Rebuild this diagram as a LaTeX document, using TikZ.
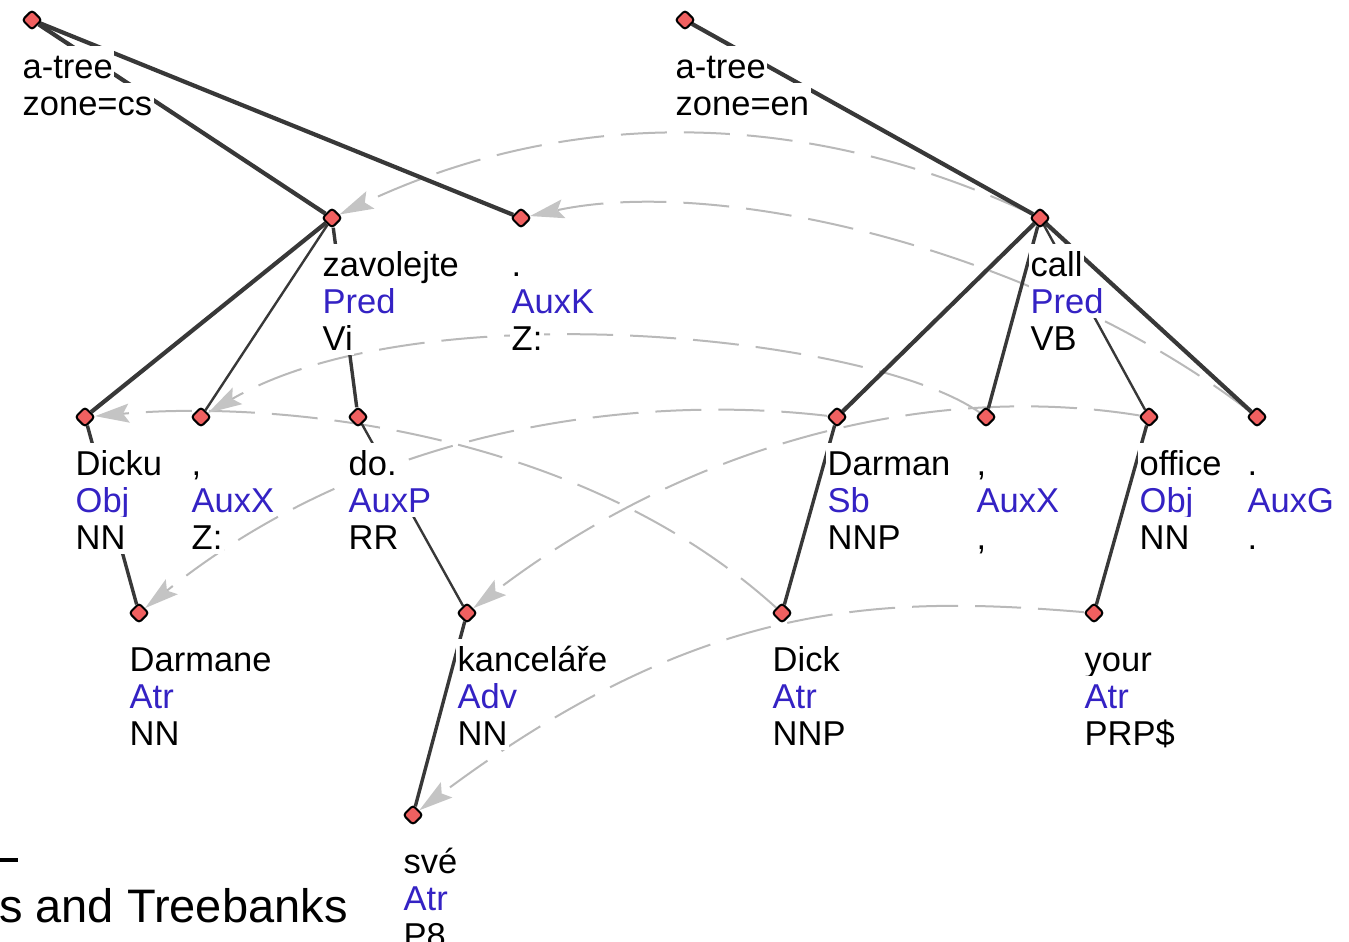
\documentclass[tikz,border=0pt]{standalone}
\usepackage{fontspec}
\setmainfont{Liberation Sans}
\usetikzlibrary{arrows.meta,shapes.geometric}

\pgfdeclarelayer{lines}
\pgfdeclarelayer{labels}
\pgfsetlayers{lines,labels,main}

\definecolor{afun}{RGB}{52,34,196}
\definecolor{edgegray}{RGB}{56,56,56}
\definecolor{aligngray}{RGB}{185,185,185}
\definecolor{tipgray}{RGB}{196,196,196}
\definecolor{nodered}{RGB}{240,96,96}

\tikzset{
  tnode/.style={diamond, draw=black, line width=2pt, fill=nodered, inner sep=0pt,
    minimum size=20pt, rounded corners=3pt},
  lab/.style={anchor=base west, fill=white, inner xsep=1.5pt, inner ysep=0pt,
    text height=32pt, text depth=5pt, font=\fontsize{34.5}{37}\selectfont},
  treethick/.style={draw=edgegray, line width=4.2pt},
  treemid/.style={draw=edgegray, line width=3.4pt},
  treethin/.style={draw=edgegray, line width=2.4pt},
  alignlink/.style={draw=aligngray, line width=2pt, dash pattern=on 46pt off 17pt,
    -{Stealth[length=34pt,width=19pt,inset=6pt,color=tipgray,fill=tipgray]}},
}

% three-line label under a tree node: form, afun, tag
\newcommand\wordlabel[6]{%
  \node[lab] (#1-f) at (#2-11,#3+58) {#4};
  \node[lab,text=afun] (#1-a) at (#2-11,#3+95) {#5};
  \node[lab] (#1-t) at (#2-11,#3+132) {#6};
}

\begin{document}
\begin{tikzpicture}[x=1pt,y=-1pt]
\useasboundingbox (0,0) rectangle (1349,942);

% tree nodes
\node[tnode] (rcs)     at (32,20) {};
\node[tnode] (ren)     at (685,20) {};
\node[tnode] (zav)     at (332,218) {};
\node[tnode] (auxk)    at (521,218) {};
\node[tnode] (call)    at (1040,218) {};
\node[tnode] (dicku)   at (85,417) {};
\node[tnode] (cx)      at (201,417) {};
\node[tnode] (do)      at (358,417) {};
\node[tnode] (darman)  at (837,417) {};
\node[tnode] (ex)      at (986,417) {};
\node[tnode] (office)  at (1149,417) {};
\node[tnode] (eg)      at (1257,417) {};
\node[tnode] (darmane) at (139,613) {};
\node[tnode] (kanc)    at (467,613) {};
\node[tnode] (dick)    at (782,613) {};
\node[tnode] (your)    at (1094,613) {};
\node[tnode] (sve)     at (413,815) {};

\begin{pgfonlayer}{lines}
  % word alignment links (English -> Czech)
  \draw[alignlink] (call)   .. controls (804,107) and (568,107) .. (zav);
  \draw[alignlink] (eg)     .. controls (1040,250) and (720,175) .. (auxk);
  \draw[alignlink] (dick)   .. controls (580,430) and (280,400) .. (dicku);
  \draw[alignlink] (ex)     .. controls (870,335) and (420,290) .. (cx);
  \draw[alignlink] (darman) .. controls (650,395) and (380,420) .. (darmane);
  \draw[alignlink] (office) .. controls (920,380) and (680,450) .. (kanc);
  \draw[alignlink] (your)   .. controls (880,595) and (700,600) .. (sve);

  % dependency edges, Czech tree
  \draw[treethick] (rcs) -- (zav);
  \draw[treethick] (rcs) -- (auxk);
  \draw[treethick] (zav) -- (dicku);
  \draw[treethin]  (zav) -- (cx);
  \draw[treemid]   (zav) -- (do);
  \draw[treemid]   (dicku) -- (darmane);
  \draw[treethin]  (do) -- (kanc);
  \draw[treemid]   (kanc) -- (sve);

  % dependency edges, English tree
  \draw[treethick] (ren) -- (call);
  \draw[treethick] (call) -- (darman);
  \draw[treemid]   (call) -- (ex);
  \draw[treethin]  (call) -- (office);
  \draw[treethick] (call) -- (eg);
  \draw[treemid]   (darman) -- (dick);
  \draw[treemid]   (office) -- (your);

  % slide footer fragment
  \fill[black] (0,858) rectangle (18,861.5);
\end{pgfonlayer}

\begin{pgfonlayer}{labels}
  \node[lab] (rcs-f) at (21,78) {a-tree};
  \node[lab] (rcs-a) at (21,115) {zone=cs};
  \node[lab] (ren-f) at (674,78) {a-tree};
  \node[lab] (ren-a) at (674,115) {zone=en};

  \wordlabel{zav}{332}{218}{zavolejte}{Pred}{Vi}
  \wordlabel{auxk}{521}{218}{.}{AuxK}{Z:}
  \wordlabel{call}{1040}{218}{call}{Pred}{VB}
  \wordlabel{dicku}{85}{417}{Dicku}{Obj}{NN}
  \wordlabel{cx}{201}{417}{,}{AuxX}{Z:}
  \wordlabel{do}{358}{417}{do.}{AuxP}{RR}
  \wordlabel{darman}{837}{417}{Darman}{Sb}{NNP}
  \wordlabel{ex}{986}{417}{,}{AuxX}{,}
  \wordlabel{office}{1149}{417}{office}{Obj}{NN}
  \wordlabel{eg}{1257}{417}{.}{AuxG}{.}
  \wordlabel{darmane}{139}{613}{Darmane}{Atr}{NN}
  \wordlabel{kanc}{467}{613}{kanceláře}{Adv}{NN}
  \wordlabel{dick}{782}{613}{Dick}{Atr}{NNP}
  \wordlabel{your}{1094}{613}{your}{Atr}{PRP\$}
  \wordlabel{sve}{413}{815}{své}{Atr}{P8}

  \node[anchor=base west, inner sep=0pt, font=\fontsize{47}{50}\selectfont] (foot)
    at (-1,922) {s and Treebanks};
\end{pgfonlayer}
\end{tikzpicture}
\end{document}
